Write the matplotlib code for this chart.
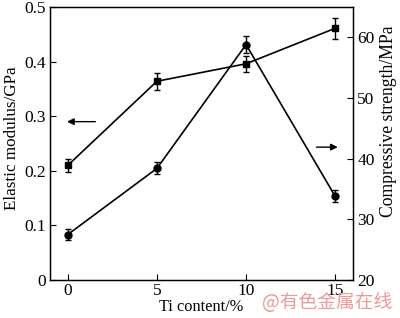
import matplotlib
matplotlib.use("Agg")
import matplotlib.pyplot as plt

plt.rcParams["font.family"] = ["Liberation Serif", "DejaVu Serif"]
plt.rcParams["mathtext.fontset"] = "stix"

# === Data ===
ti_content = [0, 5, 10, 15]
elastic_modulus = [0.210, 0.364, 0.396, 0.461]
elastic_err = [0.012, 0.016, 0.015, 0.019]
comp_strength = [27.5, 38.4, 58.8, 33.8]
comp_err = [0.9, 1.0, 1.4, 1.0]

x_ticks = [0, 5, 10, 15]
left_ticks = [0, 0.1, 0.2, 0.3, 0.4, 0.5]
left_labels = ["0", "0.1", "0.2", "0.3", "0.4", "0.5"]
right_ticks = [20, 30, 40, 50, 60]

fig = plt.figure(figsize=(4.0, 3.18), dpi=100)
ax = fig.add_axes([50 / 400, 1 - 280 / 318, 303 / 400, 273 / 318])
ax2 = ax.twinx()

ax.errorbar(ti_content, elastic_modulus, yerr=elastic_err, fmt="-s", color="black",
            ms=5, lw=1.2, elinewidth=1.0, capsize=2.5, capthick=1.0)
ax2.errorbar(ti_content, comp_strength, yerr=comp_err, fmt="-o", color="black",
             ms=5, lw=1.2, elinewidth=1.0, capsize=2.5, capthick=1.0)

ax.set_xlim(-1, 16)
ax.set_ylim(0, 0.5)
ax2.set_ylim(20, 65)
ax.set_xticks(x_ticks)
ax.set_yticks(left_ticks)
ax.set_yticklabels(left_labels)
ax2.set_yticks(right_ticks)

for a in (ax, ax2):
    a.tick_params(direction="in", length=4, width=0.8, labelsize=12.5, pad=3)
    for s in a.spines.values():
        s.set_linewidth(0.9)
ax.tick_params(axis="x", pad=2)

ax.set_xlabel("Ti content/%", fontsize=11.8, labelpad=0)
ax.set_ylabel("Elastic modulus/GPa", fontsize=12.3, labelpad=3)
ax2.set_ylabel("Compressive strength/MPa", fontsize=12.7, labelpad=4)
ax.yaxis.label.set_y(0.52)
ax2.yaxis.label.set_y(0.58)

# arrows pointing to the matching axes
ax.annotate("", xy=(-0.2, 0.290), xytext=(1.7, 0.290),
            arrowprops=dict(arrowstyle="-|>", color="black", lw=1.0, mutation_scale=10))
ax2.annotate("", xy=(15.3, 41.9), xytext=(13.8, 41.9),
             arrowprops=dict(arrowstyle="-|>", color="black", lw=1.0, mutation_scale=10))

fig.text(0.655, 0.05, "@有色金属在线", color="#ee9a9a", fontsize=13.5,
         family=["Noto Sans CJK SC", "DejaVu Sans"], va="center")

fig.savefig("out.png", dpi=100)
